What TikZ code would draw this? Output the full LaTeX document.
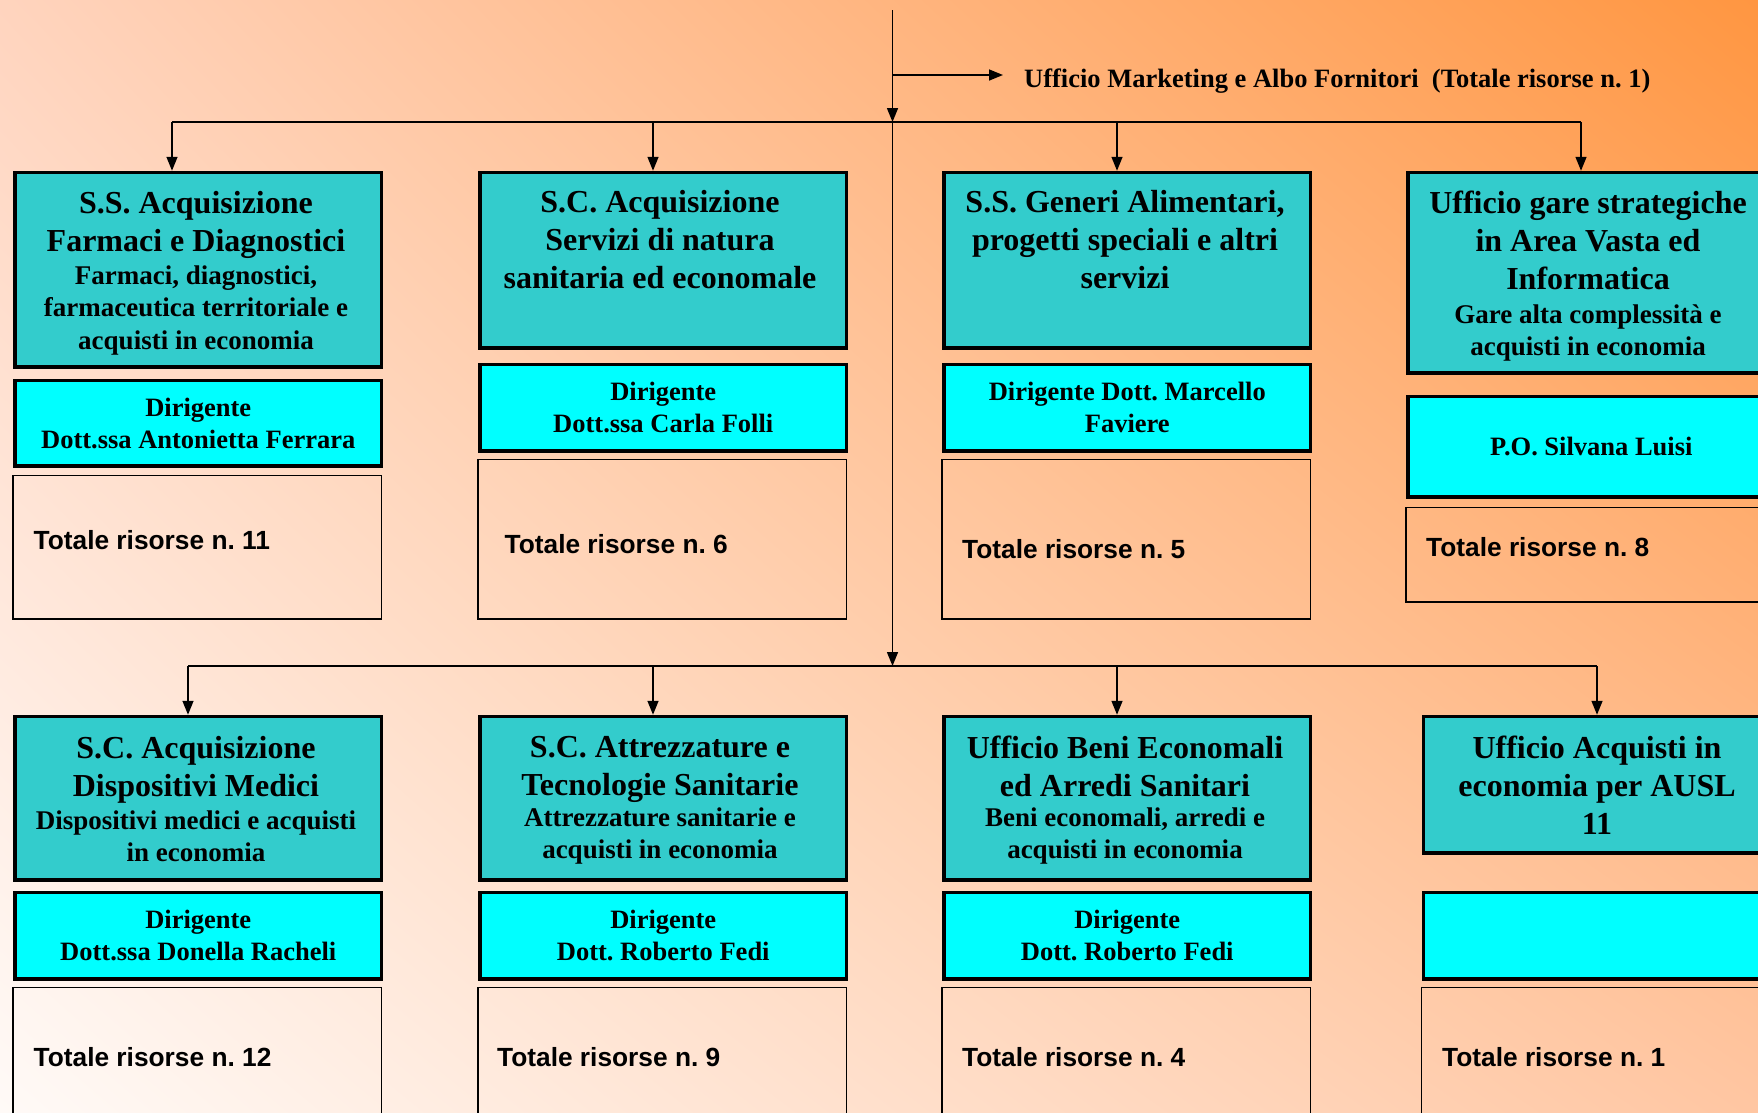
\documentclass[tikz,border=0pt]{standalone}
\usepackage{fontspec}
\setmainfont{Liberation Serif}
\newfontfamily\arialfont{Liberation Sans}
\usetikzlibrary{arrows.meta}
\usetikzlibrary{shadings}
\frenchspacing

\definecolor{sfondoTL}{RGB}{255,212,190}
\definecolor{sfondoTR}{RGB}{255,150,65}
\definecolor{sfondoBL}{RGB}{255,250,247}
\definecolor{sfondoBR}{RGB}{255,198,162}
\definecolor{verdeacqua}{RGB}{51,204,204}
\definecolor{ciano}{RGB}{0,255,255}

\newcommand\fntTitolo{\fontsize{32}{38}\selectfont\bfseries}
\newcommand\fntSotto{\fontsize{27}{32.5}\selectfont\bfseries}
\newcommand\fntDir{\fontsize{26.5}{31.7}\selectfont\bfseries}
\newcommand\fntMkt{\fontsize{26.5}{30}\selectfont\bfseries}
\newcommand\fntRis{\arialfont\fontsize{26.3}{30}\selectfont\bfseries}

\tikzset{
    linea/.style={line width=1.5pt},
    freccia/.style={line width=1.5pt, -{Triangle[length=14pt,width=11pt]}},
    ufficio/.style={draw, line width=3.5pt, fill=verdeacqua, anchor=north west, minimum width=366.5pt, inner sep=0pt},
    dirigente/.style={draw, line width=3.5pt, fill=ciano, anchor=north west, minimum width=366.5pt, inner sep=0pt, align=center, font=\fntDir},
    risorse/.style={draw, line width=1.5pt, anchor=north west, minimum width=368.5pt, inner sep=0pt},
    totale/.style={anchor=west, inner sep=0pt, font=\fntRis},
    titolo/.style={align=center, font=\fntTitolo, inner sep=0pt},
    sottotitolo/.style={align=center, font=\fntSotto, inner sep=0pt},
}

\begin{document}
\begin{tikzpicture}[x=1pt, y=-1pt]
    \useasboundingbox (0,0) rectangle (1758,1112);
    \clip (0,0) rectangle (1758,1112);
    \shade[upper left=sfondoTL, upper right=sfondoTR, lower left=sfondoBL, lower right=sfondoBR] (0,0) rectangle (1758,1112);

    % prima fila
    \node[ufficio, minimum height=194.5pt] (uff1) at (13.25,170.75) {};
    \node[ufficio, minimum height=175.5pt] (uff2) at (478.25,170.75) {};
    \node[ufficio, minimum height=175.5pt] (uff3) at (942.25,170.75) {};
    \node[ufficio, minimum height=200.5pt] (uff4) at (1406.35,170.75) {};
    \node[titolo] (tit1) at (196,224.5) {S.S. Acquisizione\\Farmaci e Diagnostici};
    \node[sottotitolo] (sot1) at (196,310) {Farmaci, diagnostici,\\farmaceutica territoriale e\\acquisti in economia};
    \node[titolo] (tit2) at (660,240) {S.C. Acquisizione\\Servizi di natura\\sanitaria ed economale};
    \node[titolo] (tit3) at (1125,240) {S.S. Generi Alimentari,\\progetti speciali e altri\\servizi};
    \node[titolo] (tit4) at (1588,240) {Ufficio gare strategiche\\in Area Vasta ed\\Informatica};
    \node[sottotitolo] (sot4) at (1588,333) {Gare alta complessità e\\acquisti in economia};

    \node[dirigente, minimum height=85.5pt] (dir1) at (13.25,378.75) {Dirigente\\Dott.ssa Antonietta Ferrara};
    \node[dirigente, minimum height=86.5pt] (dir2) at (478.25,362.75) {Dirigente\\Dott.ssa Carla Folli};
    \node[dirigente, minimum height=86.5pt] (dir3) at (942.25,362.75) {Dirigente Dott. Marcello\\Faviere};
    \node[dirigente, minimum height=100.5pt] (dir4) at (1406.35,394.75) {P.O. Silvana Luisi};

    \node[risorse, minimum height=143.5pt] (ris1) at (12.25,474.75) {};
    \node[risorse, minimum height=159.5pt] (ris2) at (477.25,458.75) {};
    \node[risorse, minimum height=159.5pt] (ris3) at (941.25,458.75) {};
    \node[risorse, minimum height=94.5pt] (ris4) at (1405.35,506.75) {};
    \node[totale] (tot1) at (33.5,540.5) {Totale risorse n. 11};
    \node[totale] (tot2) at (504.5,544) {Totale risorse n. 6};
    \node[totale] (tot3) at (962,549) {Totale risorse n. 5};
    \node[totale] (tot4) at (1426,547) {Totale risorse n. 8};

    % seconda fila
    \node[ufficio, minimum height=163.5pt] (uff5) at (13.25,714.75) {};
    \node[ufficio, minimum height=163.5pt] (uff6) at (478.25,714.75) {};
    \node[ufficio, minimum height=163.5pt] (uff7) at (942.25,714.75) {};
    \node[ufficio, minimum height=136.5pt] (uff8) at (1421.75,714.75) {};
    \node[titolo] (tit5) at (196,769.5) {S.C. Acquisizione\\Dispositivi Medici};
    \node[sottotitolo] (sot5) at (196,836) {Dispositivi medici e acquisti\\in economia};
    \node[titolo] (tit6) at (660,769.5) {S.C. Attrezzature e\\Tecnologie Sanitarie};
    \node[sottotitolo] (sot6) at (660,836) {Attrezzature sanitarie e\\acquisti in economia};
    \node[titolo] (tit7) at (1125,766) {Ufficio Beni Economali\\ed Arredi Sanitari};
    \node[sottotitolo] (sot7) at (1125,836) {Beni economali, arredi e\\acquisti in economia};
    \node[titolo] (tit8) at (1597,785) {Ufficio Acquisti in\\economia per AUSL\\11};

    \node[dirigente, minimum height=86.5pt] (dir5) at (13.25,890.75) {Dirigente\\Dott.ssa Donella Racheli};
    \node[dirigente, minimum height=86.5pt] (dir6) at (478.25,890.75) {Dirigente\\Dott. Roberto Fedi};
    \node[dirigente, minimum height=86.5pt] (dir7) at (942.25,890.75) {Dirigente\\Dott. Roberto Fedi};
    \node[dirigente, minimum height=86.5pt] (dir8) at (1421.75,890.75) {};

    \node[risorse, minimum height=200pt] (ris5) at (12.25,986.75) {};
    \node[risorse, minimum height=200pt] (ris6) at (477.25,986.75) {};
    \node[risorse, minimum height=200pt] (ris7) at (941.25,986.75) {};
    \node[risorse, minimum height=200pt] (ris8) at (1420.75,986.75) {};
    \node[totale] (tot5) at (33.5,1057) {Totale risorse n. 12};
    \node[totale] (tot6) at (497,1057) {Totale risorse n. 9};
    \node[totale] (tot7) at (962,1057) {Totale risorse n. 4};
    \node[totale] (tot8) at (1442,1057) {Totale risorse n. 1};

    % collegamenti
    \coordinate (cima) at (892.5,10);
    \coordinate (mkt) at (892.5,75);
    \coordinate (nodo1) at (892.5,122);
    \coordinate (nodo2) at (892.5,666);
    \coordinate (a1) at (172,122);
    \coordinate (a2) at (653,122);
    \coordinate (a3) at (1117,122);
    \coordinate (a4) at (1581,122);
    \coordinate (b1) at (188,666);
    \coordinate (b2) at (653,666);
    \coordinate (b3) at (1117,666);
    \coordinate (b4) at (1597,666);

    \node[anchor=west, font=\fntMkt, inner xsep=21pt, inner ysep=0pt] (marketing) at (1003,81) {Ufficio Marketing e Albo Fornitori\ \ (Totale risorse n. 1)};

    \draw[freccia] (cima) -- (nodo1);
    \draw[freccia] (nodo1) -- (nodo2);
    \draw[freccia] (mkt) -- (mkt -| marketing.west);
    \draw[linea] (a1) -- (a4);
    \draw[linea] (b1) -- (b4);
    \foreach \i in {1,...,4}
        \draw[freccia] (a\i) -- (a\i |- uff\i.north);
    \foreach \i/\j in {1/5,2/6,3/7,4/8}
        \draw[freccia] (b\i) -- (b\i |- uff\j.north);
\end{tikzpicture}
\end{document}
